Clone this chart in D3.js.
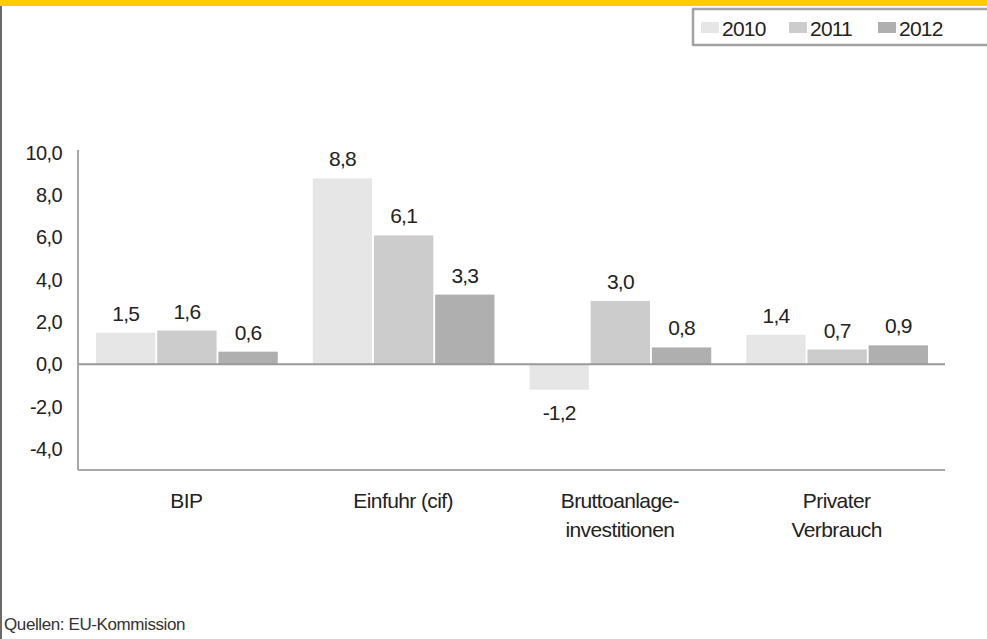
<!DOCTYPE html>
<html>
<head>
<meta charset="utf-8">
<script src="https://cdn.jsdelivr.net/npm/d3@7"></script>
<style>
  body { margin: 0; background: #fff; }
  svg { display: block; font-family: "Liberation Sans", Arial, sans-serif; }
</style>
</head>
<body>
<div id="chart"></div>
<script>
// data
const categories = ['BIP', 'Einfuhr (cif)', 'Bruttoanlage-\ninvestitionen', 'Privater\nVerbrauch'];
const years = ['2010', '2011', '2012'];
const values2010 = [1.5, 8.8, -1.2, 1.4];
const values2011 = [1.6, 6.1, 3.0, 0.7];
const values2012 = [0.6, 3.3, 0.8, 0.9];
const yTicks = [-4, -2, 0, 2, 4, 6, 8, 10];

const series = [values2010, values2011, values2012];
const colors = ['#e6e6e6', '#cccccc', '#afafaf'];

const width = 987, height = 639;
const margin = { top: 153, right: 42, bottom: 169, left: 78 };

const svg = d3.select('#chart').append('svg')
    .attr('width', width)
    .attr('height', height);

// frame: yellow band + left border
svg.append('rect').attr('x', 0).attr('y', 0).attr('width', width).attr('height', 6).attr('fill', '#ffcc00');
svg.append('rect').attr('x', 0).attr('y', 6).attr('width', 2).attr('height', height - 6).attr('fill', '#6b6b6b');

const x0 = d3.scaleBand().domain(d3.range(categories.length))
    .range([margin.left, width - margin.right]).paddingInner(0).paddingOuter(0);
const x1 = d3.scaleBand().domain(d3.range(years.length))
    .range([18, x0.bandwidth() - 17]).paddingInner(0.03);
const y = d3.scaleLinear().domain([-5, 10]).range([height - margin.bottom, margin.top]);

const fmt = v => d3.format('.1f')(v).replace('.', ',').replace('\u2212', '-');

// y axis
const yAxis = svg.append('g')
    .attr('transform', `translate(${margin.left},0)`)
    .call(d3.axisLeft(y).tickValues(yTicks).tickSize(0).tickPadding(16).tickFormat(fmt));
yAxis.select('.domain').remove();
yAxis.selectAll('text')
    .attr('font-size', 20)
    .attr('fill', '#222')
    .attr('font-family', '"Liberation Sans", Arial, sans-serif')
    .attr('letter-spacing', -0.6);
svg.append('line')
    .attr('x1', margin.left).attr('x2', margin.left)
    .attr('y1', y(10) - 3).attr('y2', y(-5))
    .attr('stroke', '#a8a8a8').attr('stroke-width', 2);

// bottom line
svg.append('line')
    .attr('x1', margin.left).attr('x2', width - margin.right)
    .attr('y1', y(-5)).attr('y2', y(-5))
    .attr('stroke', '#a8a8a8').attr('stroke-width', 2);

// bars
const groups = svg.append('g').selectAll('g')
    .data(categories)
    .join('g')
    .attr('transform', (d, i) => `translate(${x0(i)},0)`);

groups.selectAll('rect')
    .data((d, i) => series.map((s, k) => ({ k, v: s[i] })))
    .join('rect')
    .attr('x', d => x1(d.k))
    .attr('width', x1.bandwidth())
    .attr('y', d => y(Math.max(0, d.v)))
    .attr('height', d => Math.abs(y(d.v) - y(0)))
    .attr('fill', d => colors[d.k]);

groups.selectAll('text.val')
    .data((d, i) => series.map((s, k) => ({ k, v: s[i] })))
    .join('text')
    .attr('class', 'val')
    .attr('x', d => x1(d.k) + x1.bandwidth() / 2)
    .attr('y', d => d.v >= 0 ? y(d.v) - 12 : y(d.v) + 30)
    .attr('text-anchor', 'middle')
    .attr('font-size', 21)
    .attr('letter-spacing', -0.8)
    .attr('fill', '#222')
    .text(d => fmt(d.v));

// zero line
svg.append('line')
    .attr('x1', margin.left).attr('x2', width - margin.right)
    .attr('y1', y(0)).attr('y2', y(0))
    .attr('stroke', '#999').attr('stroke-width', 2);

// category labels
groups.append('text')
    .attr('y', 508)
    .attr('text-anchor', 'middle')
    .attr('font-size', 21)
    .attr('letter-spacing', -0.6)
    .attr('fill', '#222')
    .selectAll('tspan')
    .data(d => d.split('\n'))
    .join('tspan')
    .attr('x', x0.bandwidth() / 2)
    .attr('dy', (d, i) => i === 0 ? 0 : 29)
    .text(d => d);

// legend
const legend = svg.append('g');
legend.append('rect')
    .attr('x', 693).attr('y', 9).attr('width', 300).attr('height', 36)
    .attr('fill', '#fff').attr('stroke', '#d0d0d0').attr('stroke-width', 3);
legend.append('rect')
    .attr('x', 693).attr('y', 9).attr('width', 300).attr('height', 36)
    .attr('fill', 'none').attr('stroke', '#777').attr('stroke-width', 1);
const legendX = [701, 789, 878];
years.forEach((yr, k) => {
    legend.append('rect')
        .attr('x', legendX[k]).attr('y', 22).attr('width', 18).attr('height', 11)
        .attr('fill', colors[k]);
    legend.append('text')
        .attr('x', legendX[k] + 21).attr('y', 36)
        .attr('font-size', 21)
        .attr('letter-spacing', -0.8)
        .attr('fill', '#222')
        .text(yr);
});

// source
svg.append('text')
    .attr('x', 4).attr('y', 630)
    .attr('font-size', 17)
    .attr('letter-spacing', -0.4)
    .attr('fill', '#333')
    .text('Quellen: EU-Kommission');
</script>
</body>
</html>
